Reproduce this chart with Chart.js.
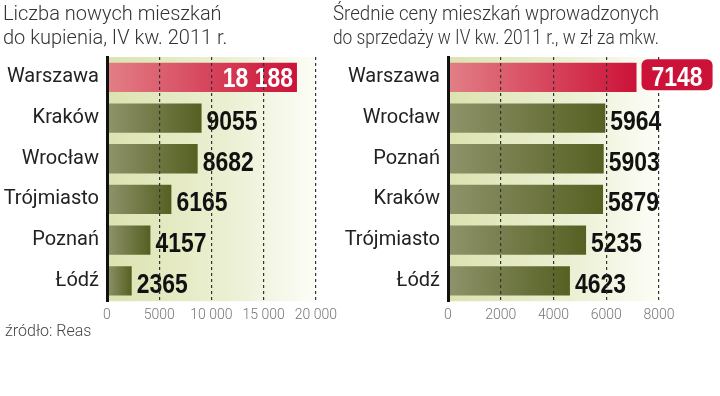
<!DOCTYPE html>
<html>
<head>
<meta charset="utf-8">
<script src="https://cdn.jsdelivr.net/npm/chart.js@4.4.1/dist/chart.umd.min.js"></script>
<style>
    body { margin: 0; background: #fff; width: 720px; height: 396px; position: relative; overflow: hidden; }
    #left { position: absolute; left: 0; top: 0; }
    #right { position: absolute; left: 330px; top: 0; }
    #src { position: absolute; left: 5px; top: 321px; font: 300 16px Roboto, sans-serif; color: #444; }
</style>
</head>
<body>
<canvas id="left" width="343" height="330"></canvas>
<canvas id="right" width="390" height="330"></canvas>
<div id="src">źródło: Reas</div>
<script>
var leftTitle = ['Liczba nowych mieszkań', 'do kupienia, IV kw. 2011 r.'];
var leftCities = ['Warszawa', 'Kraków', 'Wrocław', 'Trójmiasto', 'Poznań', 'Łódź'];
var leftValues = [18188, 9055, 8682, 6165, 4157, 2365];
var leftTicks = ['0', '5000', '10 000', '15 000', '20 000'];

var rightTitle = ['Średnie ceny mieszkań wprowadzonych', 'do sprzedaży w IV kw. 2011 r., w zł za mkw.'];
var rightCities = ['Warszawa', 'Wrocław', 'Poznań', 'Kraków', 'Trójmiasto', 'Łódź'];
var rightValues = [7148, 5964, 5903, 5879, 5235, 4623];
var rightTicks = ['0', '2000', '4000', '6000', '8000'];

var RED = '#cc1238', GREEN = '#566022';
var SQUEEZE = 0.85; // condensed look for the numbers

function fmt(n) {
    // polish style: 4 digit numbers without a space
    if (n < 10000) return String(n);
    return String(n).replace(/\B(?=(\d{3})+(?!\d))/g, ' ');
}

// gradient from the axis to the end of the bar
function barFill(c) {
    var chart = c.chart;
    var light = c.dataIndex === 0 ? '#e27f86' : '#8f936b';
    var dark = c.dataIndex === 0 ? RED : GREEN;
    if (!chart.chartArea || !chart.scales.x) return dark;
    var xs = chart.scales.x;
    var x0 = xs.getPixelForValue(0), x1 = xs.getPixelForValue(c.raw);
    if (!isFinite(x0) || !isFinite(x1) || x1 <= x0) return dark;
    var g = chart.ctx.createLinearGradient(x0, 0, x1, 0);
    g.addColorStop(0, light);
    g.addColorStop(1, dark);
    return g;
}

var areaBg = {
    id: 'areaBg',
    beforeDraw: function(chart) {
        var a = chart.chartArea, ctx = chart.ctx;
        var g = ctx.createLinearGradient(a.left, 0, a.right, 0);
        g.addColorStop(0, '#dce3b0');
        g.addColorStop(0.6, '#ecf0d4');
        g.addColorStop(1, '#fdfdf7');
        ctx.save();
        ctx.fillStyle = g;
        ctx.fillRect(a.left, a.top, a.right - a.left, a.bottom - a.top);
        ctx.restore();
    }
};

function squeezedText(ctx, txt, x, y, align) {
    var w = ctx.measureText(txt).width * SQUEEZE;
    var left = align === 'right' ? x - w : (align === 'center' ? x - w / 2 : x);
    ctx.save();
    ctx.translate(left, y);
    ctx.scale(SQUEEZE, 1);
    ctx.textAlign = 'left';
    ctx.fillText(txt, 0, 0);
    ctx.restore();
    return w;
}

function valueLabels(firstMode) {
    function drawOne(chart, i, boxed) {
        var ctx = chart.ctx;
        var bar = chart.getDatasetMeta(0).data[i];
        var v = chart.data.datasets[0].data[i];
        var txt = fmt(v);
        ctx.font = 'bold 27px "Liberation Sans", Arial, sans-serif';
        ctx.textBaseline = 'alphabetic';
        var w = ctx.measureText(txt).width * SQUEEZE;
        var y = bar.y + 10;
        if (i === 0 && firstMode === 'inside') {
            ctx.fillStyle = '#fff';
            squeezedText(ctx, txt, bar.x - 4, y, 'right');
        } else if (i === 0 && boxed) {
            var bx = bar.x + 5, bw = w + 20, by = bar.y - 18, bh = 31;
            ctx.fillStyle = RED;
            ctx.beginPath();
            ctx.roundRect(bx, by, bw, bh, 6);
            ctx.fill();
            ctx.fillStyle = '#fff';
            squeezedText(ctx, txt, bx + bw / 2, y - 1, 'center');
        } else {
            ctx.fillStyle = '#111';
            squeezedText(ctx, txt, bar.x + 5, y + 2, 'left');
        }
    }
    return {
        id: 'valueLabels',
        afterDatasetsDraw: function(chart) {
            var n = chart.data.datasets[0].data.length;
            chart.ctx.save();
            for (var i = 0; i < n; i++) {
                if (i === 0 && firstMode === 'boxed') continue;
                drawOne(chart, i, false);
            }
            chart.ctx.restore();
        },
        afterDraw: function(chart) {
            if (firstMode !== 'boxed') return;
            chart.ctx.save();
            drawOne(chart, 0, true);
            chart.ctx.restore();
        }
    };
}

function makeChart(id, title, cities, values, ticks, max, step, yWidth, padRight, firstMode) {
    return new Chart(document.getElementById(id), {
        type: 'bar',
        data: {
            labels: cities,
            datasets: [{
                data: values,
                backgroundColor: barFill,
                borderWidth: 0,
                barPercentage: 0.72,
                categoryPercentage: 1
            }]
        },
        options: {
            indexAxis: 'y',
            responsive: false,
            animation: false,
            events: [],
            layout: { padding: { left: 3, right: padRight, top: 0, bottom: 0 } },
            plugins: {
                legend: { display: false },
                tooltip: { enabled: false },
                title: {
                    display: true,
                    text: title,
                    align: 'start',
                    color: '#333',
                    font: { family: 'Roboto', size: 20, weight: 300, lineHeight: 1.2 },
                    padding: { top: 3, bottom: 6 }
                }
            },
            scales: {
                x: {
                    min: 0,
                    max: max,
                    grid: { color: '#333', lineWidth: 1.2, drawTicks: false, z: 1 },
                    border: { display: false, dash: [3, 3] },
                    ticks: {
                        stepSize: step,
                        padding: 6,
                        color: '#777',
                        font: { family: 'Roboto', size: 14, weight: 300 },
                        callback: function(v, i) { return ticks[i]; }
                    }
                },
                y: {
                    grid: { display: false, drawTicks: false },
                    border: { display: true, color: '#111', width: 3, z: 2 },
                    ticks: {
                        padding: 8,
                        color: '#222',
                        font: { family: 'Roboto', size: 20 }
                    },
                    afterFit: function(s) { s.width = yWidth; }
                }
            }
        },
        plugins: [areaBg, valueLabels(firstMode)]
    });
}

makeChart('left', leftTitle, leftCities, leftValues, leftTicks, 20000, 5000, 104, 24, 'inside');
makeChart('right', rightTitle, rightCities, rightValues, rightTicks, 8000, 2000, 115, 61, 'boxed');
</script>
</body>
</html>
